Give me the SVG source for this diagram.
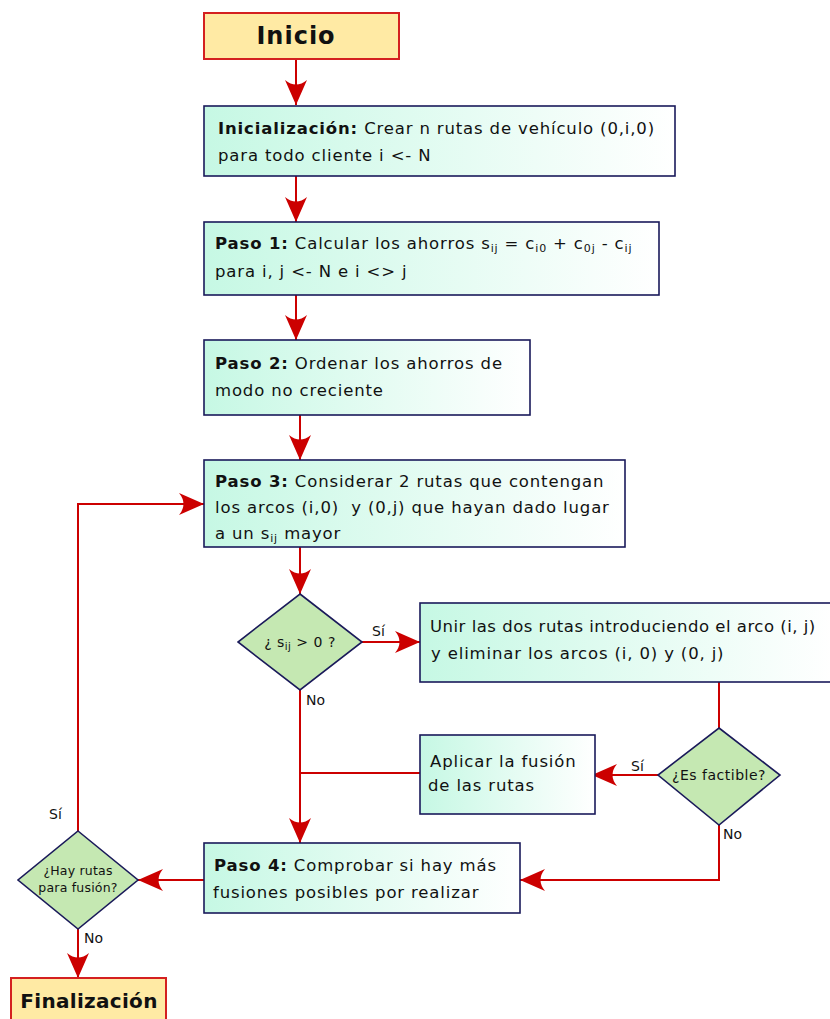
<svg xmlns="http://www.w3.org/2000/svg" width="830" height="1019" viewBox="0 0 830 1019">
<defs>
<linearGradient id="g" x1="0" y1="0" x2="1" y2="0">
<stop offset="0" stop-color="#c6f8e4"/>
<stop offset="1" stop-color="#ffffff"/>
</linearGradient>
<marker id="ah" markerUnits="userSpaceOnUse" markerWidth="26" markerHeight="22" refX="25" refY="11" orient="auto">
<path d="M0,0 Q9,11 0,22 L25,11 Z" fill="#cc0000"/>
</marker>
<style>
text{font-family:"DejaVu Sans","Verdana",sans-serif;fill:#111}
.t{font-size:16.5px;letter-spacing:0.85px}
.b{font-weight:bold}
.term{fill:#ffeaa4;stroke:#d42020;stroke-width:2}
.proc{fill:url(#g);stroke:#1a1a5a;stroke-width:1.6}
.dec{fill:#c5e8b2;stroke:#1a1a5a;stroke-width:1.6}
.ttl{font-weight:bold;text-anchor:middle}
.dt{font-size:14px;text-anchor:middle;letter-spacing:0.5px}
.lb{font-size:14px}
.c{fill:none;stroke:#cc0000;stroke-width:2}
.a{marker-end:url(#ah)}
</style>
</defs>
<g id="connectors">
<path class="c a" d="M296,59 V105"/>
<path class="c a" d="M296,176 V222"/>
<path class="c a" d="M296,295 V340"/>
<path class="c a" d="M300,415 V460"/>
<path class="c a" d="M300,547 V594"/>
<path class="c a" d="M362,642 H420"/>
<path class="c" d="M719,682 V728"/>
<path class="c a" d="M658,775 H592"/>
<path class="c" d="M420,773 H300"/>
<path class="c a" d="M300,690 V843"/>
<path class="c a" d="M719,825 V880 H520"/>
<path class="c a" d="M204,880 H138"/>
<path class="c a" d="M78,831 V504 H204"/>
<path class="c a" d="M78,929 V978"/>
<text class="lb" x="372" y="636">Sí</text>
<text class="lb" x="306" y="705">No</text>
<text class="lb" x="631" y="771">Sí</text>
<text class="lb" x="723" y="839">No</text>
<text class="lb" x="49" y="819">Sí</text>
<text class="lb" x="84" y="943">No</text>
</g>
<g id="inicio">
<rect class="term" x="204" y="13" width="195" height="46"/>
<text class="ttl" x="296" y="44" style="font-size:24px;letter-spacing:1px">Inicio</text>
</g>
<g id="inicializacion">
<rect class="proc" x="204" y="106" width="471" height="70"/>
<text class="t" x="218" y="134"><tspan class="b">Inicialización:</tspan> Crear n rutas de vehículo (0,i,0)</text>
<text class="t" x="218" y="161">para todo cliente i &lt;- N</text>
</g>
<g id="paso1">
<rect class="proc" x="204" y="222" width="455" height="73"/>
<text class="t" x="215" y="249"><tspan class="b">Paso 1:</tspan> Calcular los ahorros s<tspan font-size="11" dy="3">ij</tspan><tspan dy="-3"> = c</tspan><tspan font-size="11" dy="3">i0</tspan><tspan dy="-3"> + c</tspan><tspan font-size="11" dy="3">0j</tspan><tspan dy="-3"> - c</tspan><tspan font-size="11" dy="3">ij</tspan></text>
<text class="t" x="215" y="277">para i, j &lt;- N e i &lt;&gt; j</text>
</g>
<g id="paso2">
<rect class="proc" x="204" y="340" width="326" height="75"/>
<text class="t" x="215" y="369"><tspan class="b">Paso 2:</tspan> Ordenar los ahorros de</text>
<text class="t" x="215" y="396">modo no creciente</text>
</g>
<g id="paso3">
<rect class="proc" x="204" y="460" width="421" height="87"/>
<text class="t" x="215" y="487"><tspan class="b">Paso 3:</tspan> Considerar 2 rutas que contengan</text>
<text class="t" x="215" y="513">los arcos (i,0) &#160;y (0,j) que hayan dado lugar</text>
<text class="t" x="215" y="539">a un s<tspan font-size="11" dy="3">ij</tspan><tspan dy="-3"> mayor</tspan></text>
</g>
<g id="dec1">
<polygon class="dec" points="300,594 362,642 300,690 238,642"/>
<text class="dt" x="300" y="647">¿ s<tspan font-size="10" dy="3">ij</tspan><tspan dy="-3"> &gt; 0 ?</tspan></text>
</g>
<g id="unir">
<rect class="proc" x="420" y="603" width="412" height="79"/>
<text class="t" x="430" y="632" style="letter-spacing:0.5px">Unir las dos rutas introduciendo el arco (i, j)</text>
<text class="t" x="431" y="659">y eliminar los arcos (i, 0) y (0, j)</text>
</g>
<g id="dec2">
<polygon class="dec" points="719,728 780,775 719,825 658,775"/>
<text class="dt" x="719" y="780">¿Es factible?</text>
</g>
<g id="aplicar">
<rect class="proc" x="420" y="735" width="175" height="79"/>
<text class="t" x="430" y="767">Aplicar la fusión</text>
<text class="t" x="428" y="791">de las rutas</text>
</g>
<g id="paso4">
<rect class="proc" x="204" y="843" width="316" height="70"/>
<text class="t" x="214" y="871"><tspan class="b">Paso 4:</tspan> Comprobar si hay más</text>
<text class="t" x="213" y="898">fusiones posibles por realizar</text>
</g>
<g id="dec3">
<polygon class="dec" points="78,831 138,880 78,929 18,880"/>
<text class="dt" x="78" y="875" style="font-size:12.5px;letter-spacing:0.2px">¿Hay rutas</text>
<text class="dt" x="78" y="892" style="font-size:12.5px;letter-spacing:0.2px">para fusión?</text>
</g>
<g id="finalizacion">
<rect class="term" x="11" y="978" width="155" height="50"/>
<text class="ttl" x="89" y="1008" style="font-size:20px;letter-spacing:0.3px">Finalización</text>
</g>
</svg>
